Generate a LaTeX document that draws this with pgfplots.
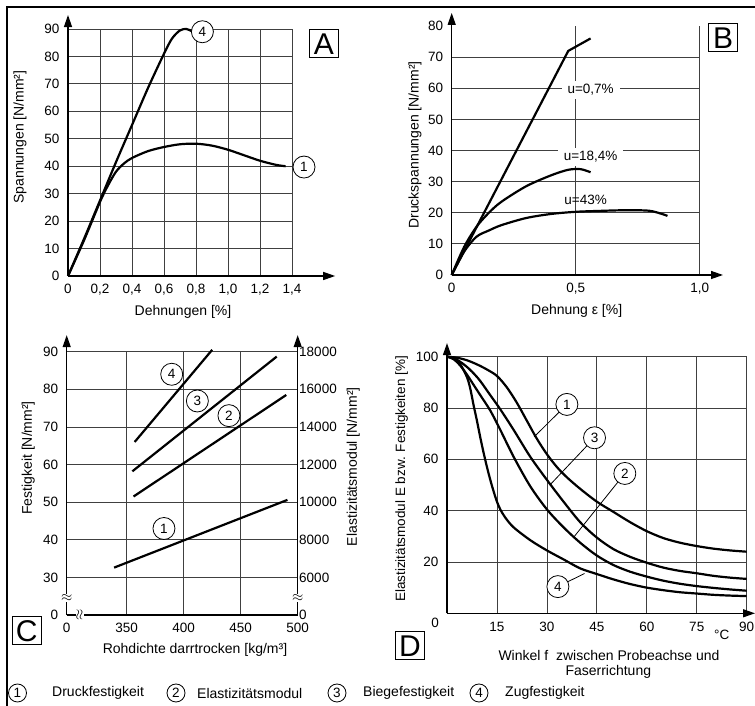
\documentclass[border=0pt]{standalone}
\usepackage{fontspec}
\setmainfont{Liberation Sans}
\usepackage{pgfplots}
\pgfplotsset{compat=1.18}
\usetikzlibrary{arrows.meta}

\newcommand\tk{\fontsize{13.5}{15}\selectfont}
\newcommand\lb{\fontsize{14}{16}\selectfont}

\pgfplotsset{
  panel/.style={scale only axis, anchor=south west, clip=false,
    axis line style={draw=none}, major tick length=0pt, tick style={draw=none},
    tick label style={font=\tk}, scaled ticks=false,
    xticklabel style={yshift=-5pt}, yticklabel style={xshift=-5pt},
    grid=major, grid style={black!75, line width=0.8pt}},
}
\tikzset{
  num/.style={circle, draw, line width=0.8pt, fill=white, minimum size=22pt, inner sep=0pt, font=\tk},
  lnum/.style={circle, draw, line width=0.8pt, fill=white, minimum size=18pt, inner sep=0pt, font=\tk},
  ax/.style={line width=1.3pt, -{Triangle[length=12pt,width=8pt]}},
  crv/.style={line width=2.2pt},
  gl/.style={black!75, line width=0.8pt},
  box/.style={draw, line width=1pt, font=\fontsize{30}{30}\selectfont, inner sep=0pt, minimum width=29pt, minimum height=28pt},
  brk/.style={fill=white, inner sep=0.3pt, font=\fontsize{15}{15}\selectfont},
}

\begin{document}
\begin{tikzpicture}[x=1pt, y=1pt]
\useasboundingbox (0,0) rectangle (755,706);
\draw[line width=1.5pt] (7,0) -- (7,699) -- (755,699);

% ---------- A ----------
\begin{axis}[panel, at={(68pt,430pt)}, width=224pt, height=247pt,
  xmin=0, xmax=1.4, ymin=0, ymax=90,
  xtick={0,0.2,0.4,0.6,0.8,1.0,1.2,1.4},
  xticklabels={0,{0,2},{0,4},{0,6},{0,8},{1,0},{1,2},{1,4}},
  ytick={0,10,...,90}, yticklabels={0,10,20,30,40,50,60,70,80,90}]
\draw[ax] (0,0) -- (1.67,0);
\draw[ax] (0,0) -- (0,95.1);
\addplot[crv, smooth] coordinates {
  (0,0)(0.1,13.5)(0.2,27.5)(0.3,41.5)(0.4,55)(0.5,68.5)(0.6,81)
  (0.65,86.5)(0.7,89.5)(0.74,90)(0.77,89.3)};
\addplot[crv, smooth] coordinates {
  (0,0)(0.1,13)(0.2,27)(0.25,33)(0.3,38)(0.35,41)(0.4,43)(0.5,45.5)
  (0.6,47)(0.7,48)(0.8,48.2)(0.9,47.5)(1.0,46)(1.1,44)(1.2,42)(1.3,40.5)(1.36,40)};
\node[num] at (0.84,89) {4};
\node[num] at (1.475,39.7) {1};
\end{axis}

% ---------- B ----------
\begin{axis}[panel, grid=none, at={(451.7pt,431pt)}, width=248pt, height=249pt,
  xmin=0, xmax=1, ymin=0, ymax=80,
  xtick={0,0.5,1}, xticklabels={0,{0,5},{1,0}},
  ytick={0,10,...,80}, yticklabels={0,10,20,30,40,50,60,70,80}]
\draw[gl] (0,10) -- (1,10);
\draw[gl] (0,20) -- (1,20);
\draw[gl] (0,30) -- (1,30);
\draw[gl] (0,40) -- (1,40);
\draw[gl] (0,50) -- (1,50);
\draw[gl] (0,60) -- (1,60);
\draw[gl] (0,70) -- (1,70);
\draw[gl] (0.5,0) -- (0.5,80);
\draw[gl] (1,0) -- (1,80);
\draw[ax] (0,0) -- (1.094,0);
\draw[ax] (0,0) -- (0,84.2);
\node[fill=white, font=\tk, inner xsep=6pt] at (0.56,59.5) {u=0,7\%};
\node[fill=white, font=\tk, inner xsep=6pt] at (0.56,38) {u=18,4\%};
\node[font=\tk] at (0.54,24) {u=43\%};
\addplot[crv] coordinates {(0,0)(0.47,72)(0.56,76)};
\addplot[crv, smooth] coordinates {
  (0,0)(0.05,9)(0.1,15.5)(0.15,20)(0.2,23.5)(0.3,28.5)(0.4,32)(0.47,33.8)(0.52,34)(0.56,33)};
\addplot[crv, smooth] coordinates {
  (0,0)(0.05,7.5)(0.1,12.3)(0.15,14.3)(0.2,16)(0.3,18.3)(0.4,19.6)(0.5,20.3)
  (0.6,20.6)(0.7,20.8)(0.8,20.6)(0.87,19)};
\end{axis}

% ---------- C ----------
\begin{axis}[panel, at={(66.7pt,91pt)}, width=231pt, height=263.3pt,
  xmin=297.4, xmax=500, ymin=20, ymax=90,
  xtick={297.4,350,400,450,500}, xticklabels={0,350,400,450,500},
  ytick={20,30,...,90}, yticklabels={0,30,40,50,60,70,80,90}]
\draw[ax] (297.4,20) -- (297.4,94.4);
\draw[ax] (500,20) -- (500,94.4);
\draw[line width=1.3pt] (297.4,20) -- (500,20);
\node[brk] at (297.4,24.5) {$\approx$};
\node[brk] at (500,24.5) {$\approx$};
\node[brk, rotate=90] at (309,20) {$\approx$};
\addplot[crv] coordinates {(339,32.6)(491,50.6)};
\addplot[crv] coordinates {(356,51.5)(490,78.5)};
\addplot[crv] coordinates {(355,58.2)(481.6,88.7)};
\addplot[crv] coordinates {(357,66)(425,90.5)};
\node[num] at (389.5,84) {4};
\node[num] at (412,76.9) {3};
\node[num] at (439.7,73) {2};
\node[num] at (382.7,43) {1};
\end{axis}
\begin{axis}[panel, grid=none, at={(66.7pt,91pt)}, width=231pt, height=263.3pt,
  xmin=297.4, xmax=500, ymin=4000, ymax=18000, hide x axis,
  yticklabel pos=right, yticklabel style={xshift=3pt},
  ytick={4000,6000,...,18000},
  yticklabels={0,6000,8000,10000,12000,14000,16000,18000}]
\end{axis}

% ---------- D ----------
\begin{axis}[panel, at={(447pt,92.7pt)}, width=299.7pt, height=256.6pt,
  xmin=0, xmax=90, ymin=0, ymax=100,
  xtick={0,15,...,90}, xticklabels={,15,30,45,60,\raisebox{4pt}{75},90},
  ytick={0,20,...,100}, yticklabels={,20,40,60,80,100}]
\draw[ax] (0,0) -- (92.5,0);
\draw[ax] (0,0) -- (0,105.3);
% 1 Druckfestigkeit
\addplot[crv, smooth] coordinates {
  (0,100)(3,99.6)(6,98.6)(9,97)(12,95)(15,92.5)(18,88)(21,82)(24,75)(27,68)
  (30,62)(33,57)(36,53)(40,48.5)(45,43.5)(50,39.5)(55,35.5)(60,32)(65,29.3)
  (70,27.5)(75,26.2)(80,25.2)(85,24.5)(90,24)};
% 3 Biegefestigkeit
\addplot[crv, smooth] coordinates {
  (0,100)(2,99.5)(4,98)(6,96)(8,93.5)(10,90.5)(13,85)(16,79.5)(20,71.5)(25,61)
  (30,52)(35,43.5)(40,35.5)(45,29.5)(50,25)(55,22)(60,19.7)(65,17.8)(70,16.5)
  (75,15.6)(80,14.6)(85,13.9)(90,13.4)};
% 2 Elastizitaetsmodul
\addplot[crv, smooth] coordinates {
  (0,100)(2,99)(4,96.5)(6,93)(8,89)(10,85)(13,79)(16,71.5)(20,61)(25,49.5)
  (30,40.5)(35,33.5)(40,27.5)(45,22.5)(50,18.8)(55,16.2)(60,14.3)(65,12.7)
  (70,11.5)(75,10.6)(80,9.9)(85,9.3)(90,8.8)};
% 4 Zugfestigkeit
\addplot[crv, smooth] coordinates {
  (0,100)(2,99.3)(4,97)(6,92)(7,87.5)(8,81)(9,75)(10,68.5)(11,62.5)(12,57)
  (13,52)(14,47.5)(15,43.5)(16,40.5)(17.5,37.3)(20,33.5)(25,28.5)(30,24.5)
  (35,21)(40,17.5)(45,15.3)(50,13.2)(55,11.4)(60,10)(65,9)(70,8.2)(75,7.7)
  (80,7.2)(85,6.9)(90,6.7)};
\draw[line width=0.8pt] (36,81.4) -- (26.2,68.8);
\draw[line width=0.8pt] (44.3,68.4) -- (30.9,50);
\draw[line width=0.8pt] (53.4,54.5) -- (38.2,29.9);
\draw[line width=0.8pt] (33.3,10.4) -- (41.3,15.5);
\node[num] at (36,81.4) {1};
\node[num] at (44.3,68.4) {3};
\node[num] at (53.4,54.5) {2};
\node[num] at (33.3,10.4) {4};
\end{axis}

% ---------- labels ----------
\node[font=\lb, rotate=90] at (20,569) {Spannungen [N/mm²]};
\node[font=\lb] at (183,394.5) {Dehnungen [\%]};
\node[font=\lb, rotate=90] at (415,561) {Druckspannungen [N/mm²]};
\node[font=\lb] at (576.7,395) {Dehnung ε [\%]};
\node[font=\lb, rotate=90] at (28.3,248) {Festigkeit [N/mm²]};
\node[font=\lb, rotate=90] at (353.3,239.3) {Elastizitätsmodul [N/mm²]};
\node[font=\lb] at (195,56) {Rohdichte darrtrocken [kg/m³]};
\node[font=\tk, rotate=90] at (401.7,227) {Elastizitätsmodul E bzw. Festigkeiten [\%]};
\node[font=\lb] at (609,50) {Winkel f\ \ zwischen Probeachse und};
\node[font=\lb] at (608.3,34) {Faserrichtung};
\node[font=\tk] at (435,83) {0};
\node[font=\tk] at (721.7,71) {°C};

\node[box] at (324,662) {A};
\node[box] at (723,668) {B};
\node[box] at (26.7,75) {C};
\node[box] at (410,60) {D};

% ---------- legend ----------
\node[lnum] at (17.5,13) {1};
\node[font=\lb, anchor=west, inner sep=0pt] at (52,13) {Druckfestigkeit};
\node[lnum] at (176,13) {2};
\node[font=\lb, anchor=west, inner sep=0pt] at (197,13) {Elastizitätsmodul};
\node[lnum] at (337,13) {3};
\node[font=\lb, anchor=west, inner sep=0pt] at (363,13) {Biegefestigkeit};
\node[lnum] at (479,13) {4};
\node[font=\lb, anchor=west, inner sep=0pt] at (505,13) {Zugfestigkeit};
\end{tikzpicture}
\end{document}
